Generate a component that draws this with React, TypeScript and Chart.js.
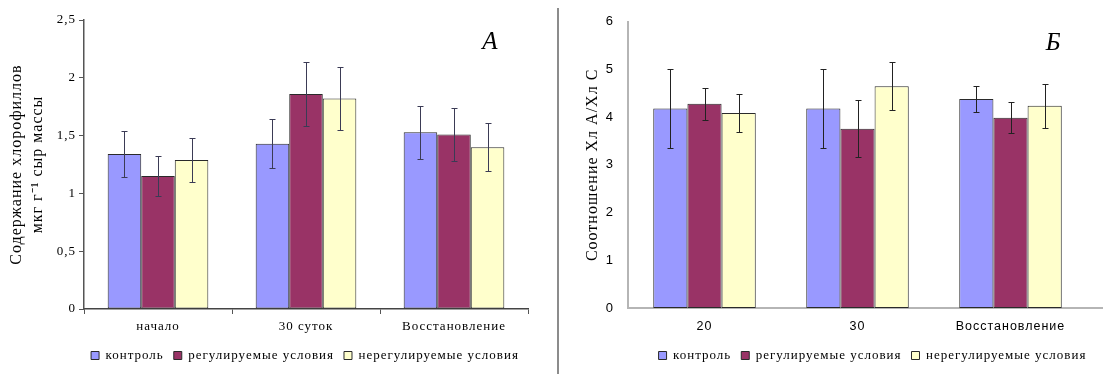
import React, { useEffect, useRef } from "react";
import { Chart, registerables } from "chart.js";

Chart.register(...registerables);

// ---- data ----
const seriesNames = ["контроль", "регулируемые условия", "нерегулируемые условия"];
const seriesColors = ["#9999FF", "#993366", "#FFFFCC"];

const leftCategories = ["начало", "30 суток", "Восстановление"];
const leftControl = [1.34, 1.43, 1.53];
const leftControlErr = [0.2, 0.21, 0.23];
const leftRegulated = [1.15, 1.86, 1.51];
const leftRegulatedErr = [0.17, 0.28, 0.23];
const leftUnregulated = [1.29, 1.82, 1.4];
const leftUnregulatedErr = [0.19, 0.27, 0.21];
const leftYTitle = ["Содержание хлорофиллов", "мкг г⁻¹ сыр массы"];
const leftPanelLabel = "А";

const rightCategories = ["20", "30", "Восстановление"];
const rightControl = [4.18, 4.18, 4.38];
const rightControlErr = [0.82, 0.82, 0.28];
const rightRegulated = [4.28, 3.76, 3.99];
const rightRegulatedErr = [0.33, 0.6, 0.32];
const rightUnregulated = [4.09, 4.65, 4.24];
const rightUnregulatedErr = [0.39, 0.5, 0.46];
const rightYTitle = "Соотношение Хл А/Хл С";
const rightPanelLabel = "Б";

// ---- plugins ----
const spacingPlugin = {
  id: "letterSpacing",
  beforeLayout(chart: any, _a: any, opts: any) {
    (chart.ctx as any).letterSpacing = opts.value || "0px";
  },
  beforeDraw(chart: any, _a: any, opts: any) {
    (chart.ctx as any).letterSpacing = opts.value || "0px";
  },
};

const errorBarPlugin = {
  id: "errorBars",
  afterDatasetsDraw(chart: any, _a: any, opts: any) {
    const ctx = chart.ctx;
    const y = chart.scales.y;
    chart.data.datasets.forEach((ds: any, i: number) => {
      const meta = chart.getDatasetMeta(i);
      meta.data.forEach((bar: any, j: number) => {
        const v = ds.data[j];
        const e = ds.errors[j];
        const x = Math.round(bar.x) + 0.5;
        const yt = Math.round(y.getPixelForValue(v + e)) + 0.5;
        const yb = Math.round(y.getPixelForValue(v - e)) + 0.5;
        const cap = opts.cap || 3;
        ctx.save();
        ctx.strokeStyle = opts.color || "#333";
        ctx.lineWidth = 1;
        ctx.beginPath();
        ctx.moveTo(x, yt);
        ctx.lineTo(x, yb);
        ctx.moveTo(x - cap, yt);
        ctx.lineTo(x + cap, yt);
        ctx.moveTo(x - cap, yb);
        ctx.lineTo(x + cap, yb);
        ctx.stroke();
        ctx.restore();
      });
    });
  },
};

const panelLabelPlugin = {
  id: "panelLabel",
  afterDraw(chart: any, _a: any, opts: any) {
    const ctx = chart.ctx;
    const a = chart.chartArea;
    ctx.save();
    (ctx as any).letterSpacing = "0px";
    ctx.font = "italic 25px 'Liberation Serif', serif";
    ctx.fillStyle = "#000";
    ctx.textAlign = "center";
    ctx.textBaseline = "middle";
    ctx.fillText(opts.text, a.right - opts.dx, a.top + opts.dy);
    ctx.restore();
  },
};

const legendShiftPlugin = {
  id: "legendShift",
  afterLayout(chart: any, _a: any, opts: any) {
    const lg = chart.legend;
    if (lg && opts.dx) {
      lg.left += opts.dx;
      lg.right += opts.dx;
    }
  },
};

// extends the category axis line to the right edge (as in the reference)
const axisExtendPlugin = {
  id: "axisExtend",
  afterDraw(chart: any, _a: any, opts: any) {
    if (!opts.to) return;
    const ctx = chart.ctx;
    const a = chart.chartArea;
    const yy = Math.round(a.bottom);
    ctx.save();
    ctx.strokeStyle = opts.color;
    ctx.lineWidth = opts.width;
    ctx.beginPath();
    ctx.moveTo(a.right, yy);
    ctx.lineTo(opts.to, yy);
    ctx.stroke();
    ctx.restore();
  },
};

function makeDatasets(values: number[][], errors: number[][], catPct: number) {
  return values.map((vals, i) => ({
    label: seriesNames[i],
    data: vals,
    errors: errors[i],
    backgroundColor: seriesColors[i],
    borderColor: "#2a2a2a",
    borderWidth: 1,
    borderSkipped: false,
    categoryPercentage: catPct,
    barPercentage: 1,
  }));
}

function LeftChart() {
  const ref = useRef<HTMLCanvasElement | null>(null);
  useEffect(() => {
    if (!ref.current) return;
    const serif = "'Liberation Serif', 'Times New Roman', serif";
    const chart = new Chart(ref.current, {
      type: "bar",
      data: {
        labels: leftCategories,
        datasets: makeDatasets(
          [leftControl, leftRegulated, leftUnregulated],
          [leftControlErr, leftRegulatedErr, leftUnregulatedErr],
          0.68
        ) as any,
      },
      plugins: [spacingPlugin, errorBarPlugin, panelLabelPlugin, legendShiftPlugin],
      options: {
        responsive: false,
        animation: false,
        layout: { padding: { left: 0, right: 27, top: 20, bottom: 2 } },
        plugins: {
          letterSpacing: { value: "1px" },
          errorBars: { color: "#3b3b55", cap: 3 },
          panelLabel: { text: leftPanelLabel, dx: 38, dy: 22 },
          legendShift: { dx: 41 },
          tooltip: { enabled: false },
          legend: {
            position: "bottom",
            fullSize: true,
            labels: {
              boxWidth: 8,
              boxHeight: 8,
              padding: 10,
              color: "#000",
              font: { family: serif, size: 13 },
            },
          },
        } as any,
        scales: {
          x: {
            grid: { drawOnChartArea: false, tickLength: 5, color: "#555", offset: true },
            border: { color: "#444", width: 1.5 },
            ticks: { color: "#000", font: { family: serif, size: 13 }, padding: 5 },
            afterFit: (s: any) => {
              s.height = 30;
            },
          },
          y: {
            min: 0,
            max: 2.5,
            ticks: {
              stepSize: 0.5,
              color: "#000",
              font: { family: serif, size: 13 },
              padding: 3,
              callback: (v: any) => String(v).replace(".", ","),
            },
            grid: { drawOnChartArea: false, tickLength: 5, color: "#555" },
            border: { color: "#555", width: 1.5 },
            title: {
              display: true,
              text: leftYTitle,
              color: "#000",
              font: { family: serif, size: 16, lineHeight: 1.3 },
              padding: { top: 6.6, bottom: 0 },
            },
            afterFit: (s: any) => {
              s.width = 84;
            },
          },
        } as any,
      },
    });
    return () => chart.destroy();
  }, []);
  return <canvas ref={ref} width={555} height={374} style={{ width: 555, height: 374, display: "block" }} />;
}

function RightChart() {
  const ref = useRef<HTMLCanvasElement | null>(null);
  useEffect(() => {
    if (!ref.current) return;
    const serif = "'Liberation Serif', 'Times New Roman', serif";
    const sans = "'Liberation Sans', Arial, sans-serif";
    const chart = new Chart(ref.current, {
      type: "bar",
      data: {
        labels: rightCategories,
        datasets: makeDatasets(
          [rightControl, rightRegulated, rightUnregulated],
          [rightControlErr, rightRegulatedErr, rightUnregulatedErr],
          0.67
        ) as any,
      },
      plugins: [spacingPlugin, errorBarPlugin, panelLabelPlugin, legendShiftPlugin, axisExtendPlugin],
      options: {
        responsive: false,
        animation: false,
        layout: { padding: { left: 0, right: 18, top: 20, bottom: 2 } },
        plugins: {
          letterSpacing: { value: "1px" },
          errorBars: { color: "#222", cap: 3 },
          panelLabel: { text: rightPanelLabel, dx: 34, dy: 22 },
          legendShift: { dx: 15 },
          axisExtend: { to: 543, color: "#b5b5b5", width: 2 },
          tooltip: { enabled: false },
          legend: {
            position: "bottom",
            fullSize: false,
            labels: {
              boxWidth: 8,
              boxHeight: 8,
              padding: 10,
              color: "#000",
              font: { family: serif, size: 13 },
            },
          },
        } as any,
        scales: {
          x: {
            grid: { display: false, drawTicks: false },
            border: { color: "#b5b5b5", width: 2 },
            ticks: { color: "#000", font: { family: sans, size: 12.5 }, padding: 11 },
            afterFit: (s: any) => {
              s.height = 31;
            },
          },
          y: {
            min: 0,
            max: 6,
            ticks: {
              stepSize: 1,
              color: "#000",
              font: { family: sans, size: 13 },
              padding: 14,
            },
            grid: { display: false, drawTicks: false },
            border: { color: "#b5b5b5", width: 2 },
            title: {
              display: true,
              text: rightYTitle,
              color: "#000",
              font: { family: serif, size: 16, lineHeight: 1.3 },
              padding: { top: 22.6, bottom: 0 },
            },
            afterFit: (s: any) => {
              s.width = 68;
            },
          },
        } as any,
      },
    });
    return () => chart.destroy();
  }, []);
  return <canvas ref={ref} width={545} height={374} style={{ width: 545, height: 374, display: "block" }} />;
}

export default function App() {
  return (
    <div
      style={{
        position: "fixed",
        left: 0,
        top: 0,
        width: 1105,
        height: 374,
        background: "#fff",
        overflow: "hidden",
      }}
    >
      <div style={{ position: "absolute", left: 0, top: 0 }}>
        <LeftChart />
      </div>
      <div
        style={{
          position: "absolute",
          left: 557,
          top: 8,
          width: 2,
          height: 366,
          background: "#8c8c8c",
        }}
      />
      <div style={{ position: "absolute", left: 560, top: 0 }}>
        <RightChart />
      </div>
    </div>
  );
}
